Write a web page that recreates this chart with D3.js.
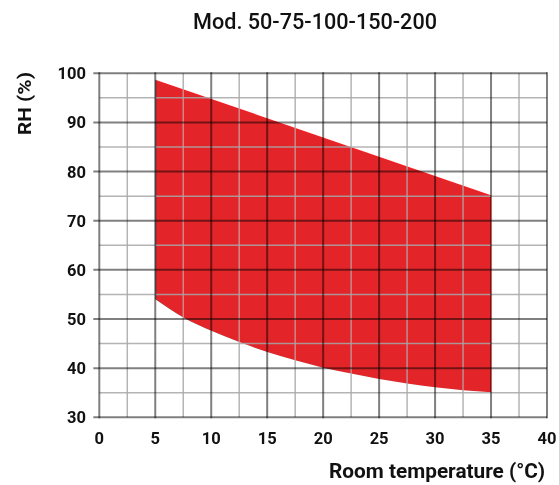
<!DOCTYPE html>
<html lang="en">
  <head>
    <meta charset="utf-8">
    <title>Mod. 50-75-100-150-200</title>
    <script src="https://d3js.org/d3.v7.min.js"></script>
    <style>
      body { margin: 0; background: #fff; }
      text { font-family: Roboto, "Liberation Sans", sans-serif; fill: #111; }
    </style>
  </head>

  <body>
    <svg id="chart" width="559" height="485"></svg>
    <script type="text/javascript">

        // data
        var xTicks = [0, 5, 10, 15, 20, 25, 30, 35, 40];
        var yTicks = [30, 40, 50, 60, 70, 80, 90, 100];

        // upper edge of the operating range is straight
        var upperTemp = [5, 35];
        var upperRH = [98.7, 75.2];

        // lower edge is a curve
        var lowerTemp = [5, 7.5, 10, 12.5, 15, 17.5, 20, 22.5, 25, 27.5, 30, 32.5, 35];
        var lowerRH = [54.0, 50.3, 47.6, 45.3, 43.3, 41.6, 40.1, 38.9, 37.8, 36.9, 36.1, 35.5, 35.1];

        var svg = d3.select("#chart");

        var x = d3.scaleLinear().domain([0, 40]).range([99.3, 547]);
        var y = d3.scaleLinear().domain([30, 100]).range([417.3, 73.3]);

        //Red area: lower curve left to right, then back along the straight top
        var lowerPts = lowerTemp.map(function(d, i){ return [x(d), y(lowerRH[i])]; });
        var upperPts = upperTemp.map(function(d, i){ return [x(d), y(upperRH[i])]; }).reverse();

        var lowerPath = d3.line().curve(d3.curveMonotoneX)(lowerPts);
        var upperPath = d3.line()(upperPts);

        svg.append("path")
           .attr("d", lowerPath + "L" + upperPath.slice(1) + "Z")
           .style("fill", "#e32428");

        //Grid - minor lines first
        var minorX = d3.range(2.5, 40, 5);
        var minorY = d3.range(35, 100, 10);

        svg.selectAll("line.minx").data(minorX).enter().append("line")
           .attr("x1", function(d){ return x(d); }).attr("x2", function(d){ return x(d); })
           .attr("y1", y(100)).attr("y2", y(30))
           .style("stroke", "#a8a8a8").style("stroke-width", 1.5)
           .style("opacity", 0.85);

        svg.selectAll("line.miny").data(minorY).enter().append("line")
           .attr("x1", x(0)).attr("x2", x(40))
           .attr("y1", function(d){ return y(d); }).attr("y2", function(d){ return y(d); })
           .style("stroke", "#a8a8a8").style("stroke-width", 1.5)
           .style("opacity", 0.85);

        //Grid - major lines, darkened over the red
        svg.selectAll("line.majx").data(xTicks).enter().append("line")
           .attr("x1", function(d){ return x(d); }).attr("x2", function(d){ return x(d); })
           .attr("y1", y(100) - 1).attr("y2", y(30) + 1)
           .style("stroke", "#808080").style("stroke-width", 2)
           .style("mix-blend-mode", "multiply");

        svg.selectAll("line.majy").data(yTicks).enter().append("line")
           .attr("x1", x(0) - 6).attr("x2", x(40))
           .attr("y1", function(d){ return y(d); }).attr("y2", function(d){ return y(d); })
           .style("stroke", "#808080").style("stroke-width", 2)
           .style("mix-blend-mode", "multiply");

        //Tick labels
        svg.selectAll("text.xt").data(xTicks).enter().append("text")
           .attr("x", function(d){ return x(d); })
           .attr("y", 444)
           .attr("text-anchor", "middle")
           .style("font-size", "16.5px").style("font-weight", "bold")
           .text(function(d){ return d; });

        svg.selectAll("text.yt").data(yTicks).enter().append("text")
           .attr("x", 86)
           .attr("y", function(d){ return y(d) + 6; })
           .attr("text-anchor", "end")
           .style("font-size", "16.5px").style("font-weight", "bold")
           .text(function(d){ return d; });

        //Titles
        svg.append("text")
           .attr("x", 193).attr("y", 29)
           .attr("textLength", 244).attr("lengthAdjust", "spacingAndGlyphs")
           .style("font-size", "22.5px").style("font-weight", "500")
           .text("Mod. 50-75-100-150-200");

        svg.append("text")
           .attr("x", 329).attr("y", 478)
           .attr("textLength", 216).attr("lengthAdjust", "spacingAndGlyphs")
           .style("font-size", "20.5px").style("font-weight", "bold")
           .text("Room temperature (°C)");

        svg.append("text")
           .attr("transform", "translate(31,135) rotate(-90)")
           .attr("textLength", 63).attr("lengthAdjust", "spacingAndGlyphs")
           .style("font-size", "19px").style("font-weight", "bold")
           .text("RH (%)");

    </script>
</body>
</html>
